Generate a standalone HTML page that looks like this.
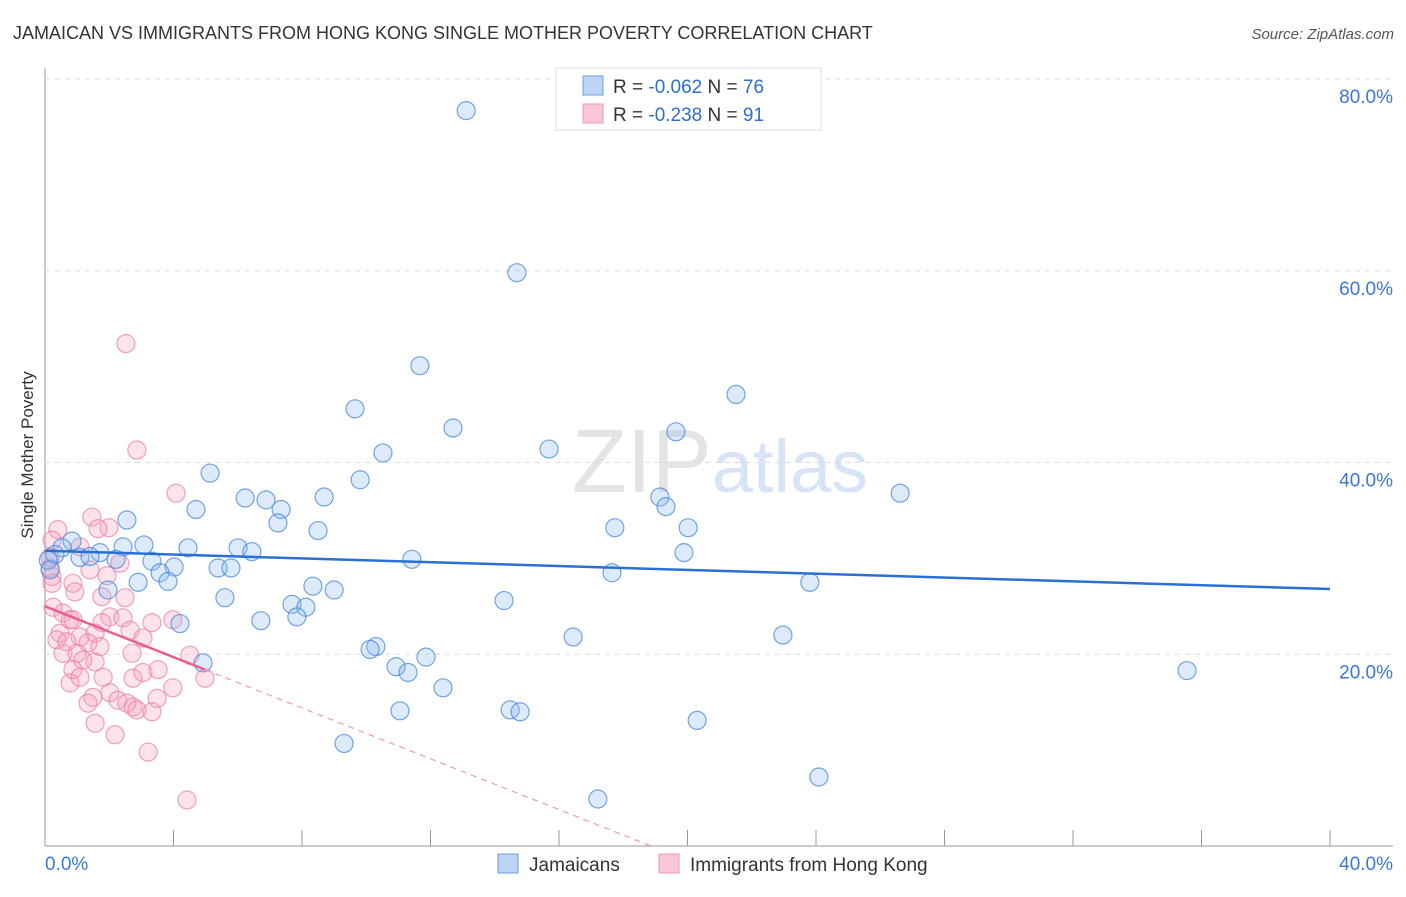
<!DOCTYPE html>
<html><head><meta charset="utf-8"><style>
body{margin:0;background:#fff;font-family:"Liberation Sans",sans-serif;}
svg text{font-family:"Liberation Sans",sans-serif;}
</style></head><body>
<svg id="chart" width="1406" height="892" xmlns="http://www.w3.org/2000/svg">
<text x="13" y="39" font-size="18" fill="#333">JAMAICAN VS IMMIGRANTS FROM HONG KONG SINGLE MOTHER POVERTY CORRELATION CHART</text>
<text x="1394" y="39" font-size="15" fill="#555" text-anchor="end" font-style="italic">Source: ZipAtlas.com</text>
<text transform="translate(33,455) rotate(-90)" font-size="17" fill="#333" text-anchor="middle">Single Mother Poverty</text>
<text x="720" y="492" font-size="90" fill="#e4e4e4" text-anchor="middle" font-family="Liberation Serif">ZIP<tspan fill="#d6e4f5" font-family="Liberation Sans" font-size="74">atlas</tspan></text>
<g id="grid"></g><g id="pts"></g><g id="lines"></g>
<g>
<rect x="556" y="68" width="265" height="62" fill="#fff" stroke="#ddd"/>
<rect x="583" y="76" width="20" height="19" fill="#bcd5f5" stroke="#6a9fe0"/>
<rect x="583" y="104" width="20" height="19" fill="#f8c6d6" stroke="#ee98b6"/>
<text x="613" y="93" font-size="19" fill="#333">R = <tspan fill="#2d6fd1">-0.062</tspan>   N = <tspan fill="#2d6fd1">76</tspan></text>
<text x="613" y="121" font-size="19" fill="#333">R = <tspan fill="#2d6fd1"> -0.238</tspan>   N = <tspan fill="#2d6fd1"> 91</tspan></text>
</g>
<g>
<rect x="498" y="854" width="20" height="19" fill="#bcd5f5" stroke="#6a9fe0"/>
<text x="529" y="871" font-size="19" fill="#333">Jamaicans</text>
<rect x="659" y="854" width="20" height="19" fill="#f8c6d6" stroke="#ee98b6"/>
<text x="690" y="871" font-size="19" fill="#333">Immigrants from Hong Kong</text>
</g>
</svg>
<script>
const xTicks=[0,4,8,12,16,20,24,28,32,36,40];
const yTicks=[20,40,60,80];
const blueX=[13.11,14.69,11.67,21.51,9.65,12.70,19.64,15.69,10.52,5.14,9.81,26.62,6.23,6.88,8.69,19.14,4.70,7.35,19.33,2.55,7.25,17.74,20.02,8.50,3.08,4.45,6.01,6.44,2.43,19.89,0.84,0.53,0.31,1.09,1.71,2.21,11.42,3.33,5.39,5.79,4.02,3.58,3.83,2.90,17.65,23.81,1.96,8.34,9.00,5.60,14.29,7.69,8.12,7.84,6.72,4.20,16.44,22.97,10.30,10.12,11.86,4.92,10.93,11.30,35.55,12.39,11.05,14.48,14.79,20.30,9.31,24.09,17.21,0.1,0.16,1.40];
const blueY=[76.7,59.8,50.1,47.1,45.6,43.6,43.2,41.4,41.0,38.9,38.2,36.8,36.3,36.1,36.4,36.4,35.1,35.1,35.4,34.0,33.7,33.2,33.2,32.9,31.4,31.1,31.1,30.7,31.2,30.6,31.8,31.1,30.4,30.1,30.6,29.9,29.9,29.7,29.0,29.0,29.1,28.5,27.6,27.5,28.5,27.5,26.7,27.1,26.7,25.9,25.6,25.2,24.9,23.9,23.5,23.2,21.8,22.0,20.8,20.5,19.7,19.1,18.7,18.1,18.3,16.5,14.1,14.2,14.0,13.1,10.7,7.2,4.9,29.8,28.8,30.2];
const pinkX=[2.52,2.86,4.08,1.46,1.99,1.65,0.40,0.22,1.09,1.40,1.93,2.33,0.87,0.93,1.77,2.49,0.22,0.22,0.25,0.56,0.87,2.02,2.43,3.33,3.98,1.77,0.47,1.09,1.56,2.65,3.05,0.37,0.68,1.34,1.71,0.56,1.00,2.71,4.51,1.18,1.56,0.87,1.81,2.74,3.05,3.52,4.98,0.78,1.09,3.98,2.02,1.49,2.27,2.55,2.74,1.34,3.49,3.33,2.86,1.56,2.18,3.21,4.42,0.16,0.16,0.78];
const pinkY=[52.4,41.3,36.8,34.3,33.2,33.1,33.0,31.9,31.2,28.8,28.2,29.5,27.4,26.5,26.0,25.9,28.1,27.4,24.9,24.3,23.6,23.9,23.8,23.3,23.6,23.3,22.2,21.8,22.2,22.5,21.7,21.5,21.3,21.2,20.8,20.1,20.1,20.1,19.9,19.4,19.2,18.4,17.6,17.5,18.1,18.4,17.5,17.0,17.6,16.5,16.0,15.5,15.2,14.9,14.5,14.9,15.4,14.0,14.2,12.8,11.6,9.8,4.8,30.1,29.0,23.6];
const blueTrend=[30.8,26.8]; // y at x=0 and x=40
const pinkTrend=[25.0,18.4,4.98]; // y at 0, y at solid end, solid end x
const NS='http://www.w3.org/2000/svg';
const X0=45,X1=1330,Y0=846,Y80=79;
const sx=v=>X0+(X1-X0)*v/40;
const sy=v=>Y0-(Y0-Y80)*v/80;
function mk(t,a,p){const e=document.createElementNS(NS,t);for(const k in a)e.setAttribute(k,a[k]);p.appendChild(e);return e;}
const grid=document.getElementById('grid');
mk('line',{x1:X0,y1:68,x2:X0,y2:Y0,stroke:'#999'},grid);
mk('line',{x1:X0,y1:Y0,x2:1393,y2:Y0,stroke:'#999'},grid);
yTicks.forEach(v=>{
 const l=mk('line',{x1:X0,y1:sy(v),x2:1393,y2:sy(v),stroke:'#ddd','stroke-dasharray':'5,5'},grid);
 
 
 const t=mk('text',{x:1393,y:sy(v)+24,'font-size':19,fill:'#3a78d6','text-anchor':'end'},grid);
 t.textContent=v.toFixed(1)+'%';
 
 
});
xTicks.forEach(v=>{
 const l=mk('line',{x1:sx(v),y1:830,x2:sx(v),y2:Y0,stroke:'#999'},grid);
 
 
});
[[0,'start',45],[40,'end',1393]].forEach(([v,a,x])=>{
 const t=mk('text',{x:x,y:870,'font-size':19,fill:'#3a78d6','text-anchor':a},grid);
 t.textContent=v.toFixed(1)+'%';
 
 
});
const pts=document.getElementById('pts');
pinkX.forEach((x,i)=>{
 const c=mk('circle',{cx:sx(x),cy:sy(pinkY[i]),r:9,fill:'rgba(244,160,190,0.3)',stroke:'rgba(236,130,168,0.75)','stroke-width':1.2},pts);
 
 
});
blueX.forEach((x,i)=>{
 const c=mk('circle',{cx:sx(x),cy:sy(blueY[i]),r:9,fill:'rgba(140,185,240,0.3)',stroke:'rgba(70,135,220,0.75)','stroke-width':1.2},pts);
 
 
});
const lines=document.getElementById('lines');
const bl=mk('line',{x1:sx(0),y1:sy(blueTrend[0]),x2:sx(40),y2:sy(blueTrend[1]),stroke:'#2a70d4','stroke-width':2.5},lines);


const slope=(pinkTrend[1]-pinkTrend[0])/pinkTrend[2];
const xz=-pinkTrend[0]/slope;
const pl=mk('line',{x1:sx(0),y1:sy(pinkTrend[0]),x2:sx(pinkTrend[2]),y2:sy(pinkTrend[1]),stroke:'#e8608f','stroke-width':2.5},lines);


const pd=mk('line',{x1:sx(pinkTrend[2]),y1:sy(pinkTrend[1]),x2:sx(xz),y2:sy(0),stroke:'#ee9ab6','stroke-width':1.2,'stroke-dasharray':'6,5'},lines);


</script>
</body></html>
